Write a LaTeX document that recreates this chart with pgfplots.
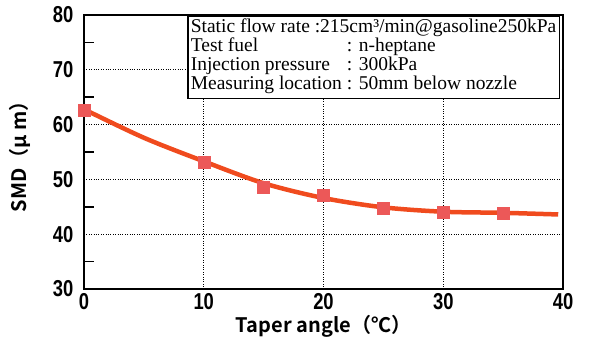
\documentclass[border=0pt]{standalone}
\usepackage{pgfplots}
\pgfplotsset{compat=1.18}
\usepackage{fontspec}
\setmainfont{Liberation Serif}
\newfontfamily\sans{Liberation Sans}
\newfontfamily\cjk{Noto Sans CJK JP}[BoldFont={Noto Sans CJK JP Bold}]
\definecolor{curve}{RGB}{240,75,30}
\definecolor{mk}{RGB}{236,88,88}
\begin{document}
\begin{tikzpicture}
\path[use as bounding box] (-84pt,-55pt) rectangle (507pt,289pt);
\begin{axis}[
  at={(0,0)}, anchor=south west,
  scale only axis, width=479pt, height=274pt,
  xmin=0, xmax=40, ymin=30, ymax=80,
  xtick={0,10,20,30,40}, ytick={30,40,50,60,70,80},
  minor ytick={35,45,55,65,75},
  major tick length=0pt, minor tick length=10pt,
  tick align=inside, ytick pos=left, xtick pos=bottom,
  every tick/.style={black, line width=1.6pt},
  grid=none,
  extra x ticks={10,20,30}, extra x tick labels={},
  extra x tick style={grid=major, major grid style={black, dotted, line width=1pt}, major tick length=0pt},
  extra y ticks={40,50,60,70}, extra y tick labels={},
  extra y tick style={grid=major, major grid style={black, dotted, line width=1pt}, major tick length=0pt},
  axis line style={black, line width=1.8pt},
  /pgf/number format/assume math mode=true,
  tick label style={font=\sans\bfseries\fontsize{23}{23}\selectfont},
  xticklabel={\scalebox{0.8}[1]{\pgfmathprintnumber{\tick}}},
  yticklabel={\scalebox{0.8}[1]{\pgfmathprintnumber{\tick}}},
  xticklabel style={yshift=-1pt},
  yticklabel style={xshift=-7pt},
  xlabel={\cjk\bfseries\fontsize{20}{20}\selectfont Taper angle（℃）},
  ylabel={\cjk\bfseries\fontsize{20}{20}\selectfont SMD（μ m）},
  xlabel style={at={(axis description cs:0.5,-0.138)}, anchor=center},
  ylabel style={at={(axis description cs:-0.134,0.5)}, anchor=center},
  clip=false,
]
\addplot[curve, line width=4.5pt, smooth, tension=0.5] coordinates {
 (0,62.8) (5,57.6) (10,53.3) (15,49.3) (20,46.6) (25,44.9) (30,44.1) (35,43.9) (39.6,43.6)
};
\addplot[only marks, mark=square*, mark size=6pt, mark options={fill=mk, draw=mk}] coordinates {
 (0,62.7) (10,53.2) (15,48.5) (20,47.2) (25,44.8) (30,44.1) (35,43.9)
};
\node[draw=black, line width=1.6pt, fill=white, anchor=north west, inner sep=3pt,
      font=\fontsize{19.5}{19.5}\selectfont, align=left]
  at (rel axis cs:0.215,1) {%
  \renewcommand{\arraystretch}{0.95}%
  \begin{tabular}{@{}l@{\hspace{5pt}}l@{}}
  \multicolumn{2}{@{}l@{}}{Static flow rate :215cm³/min@gasoline250kPa}\\
  Test fuel & : n-heptane\\
  Injection pressure & : 300kPa\\
  Measuring location & : 50mm below nozzle
  \end{tabular}};
\end{axis}
\end{tikzpicture}
\end{document}
